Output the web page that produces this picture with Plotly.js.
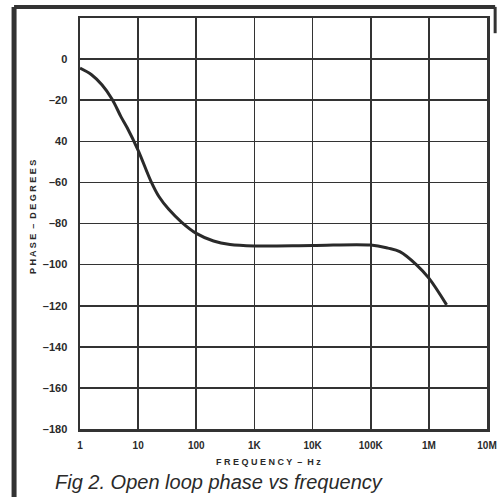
<!DOCTYPE html>
<html>
<head>
<meta charset="utf-8">
<script src="https://cdn.plot.ly/plotly-3.0.1.min.js"></script>
<style>html,body{margin:0;padding:0;background:#fff;}#chart{width:497px;height:497px;}</style>
</head>
<body>
<div id="chart"></div>
<script>
// Data
const frequencyHz = [1, 1.58, 2.38, 3.57, 5.08, 6.48, 10, 16.7, 22.9, 33.6, 56.2, 100, 198, 380, 1000, 10000, 100000, 198000, 316000, 614000, 1000000, 2020000];
const phaseDeg   = [-4.4, -7.6, -12.5, -19.5, -28.1, -33.4, -44.4, -59.6, -67.0, -73.1, -79.4, -84.8, -88.5, -90.2, -90.9, -90.7, -90.5, -92, -93.7, -100.1, -106.6, -119.6];

const xTickVals = [1, 10, 100, 1000, 10000, 100000, 1000000, 10000000];
const xTickText = ['1', '10', '100', '1K', '10K', '100K', '1M', '10M'];
const yTickVals = [0, -20, -40, -60, -80, -100, -120, -140, -160, -180];
const yTickText = ['0', '–20', '40', '–60', '–80', '–100', '–120', '–140', '–160', '–180'];

const ink = '#2a2a2a';
const fontFam = '"Liberation Sans", Arial, Helvetica, sans-serif';

const trace = {
  x: frequencyHz, y: phaseDeg, type: 'scatter', mode: 'lines',
  line: {color: ink, width: 3, shape: 'spline', smoothing: 1.0},
  hoverinfo: 'skip'
};

// frame coordinates (paper units relative to the plot area)
const fx0 = -0.162, fyTop = 1.027, fyBot = -0.2, fxR = 1.02;

const layout = {
  width: 497, height: 497,
  margin: {l: 80, r: 10, t: 18, b: 68},
  paper_bgcolor: '#ffffff', plot_bgcolor: '#ffffff',
  showlegend: false,
  font: {family: fontFam, color: ink},
  xaxis: {
    type: 'log', range: [0, 7],
    tickvals: xTickVals, ticktext: xTickText,
    showgrid: true, gridcolor: '#333', gridwidth: 1.6,
    showline: true, linecolor: '#333', linewidth: 2.5, mirror: true,
    ticks: '', ticklabelstandoff: 5,
    tickfont: {size: 10, family: fontFam, color: ink, weight: 'bold'},
    zeroline: false, fixedrange: true
  },
  yaxis: {
    range: [-180, 20],
    tickvals: yTickVals, ticktext: yTickText,
    showgrid: true, gridcolor: '#333', gridwidth: 1.6,
    showline: true, linecolor: '#333', linewidth: 2.5, mirror: true,
    ticks: '', ticklabelstandoff: 8,
    tickfont: {size: 11, family: fontFam, color: ink, weight: 'bold'},
    zeroline: false, fixedrange: true
  },
  shapes: [
    {type: 'line', xref: 'paper', yref: 'paper', x0: fx0, x1: fx0, y0: fyTop, y1: fyBot, line: {color: '#333', width: 5}},
    {type: 'line', xref: 'paper', yref: 'paper', x0: fx0, x1: fxR, y0: fyTop, y1: fyTop, line: {color: '#333', width: 4}},
    {type: 'line', xref: 'paper', yref: 'paper', x0: fxR, x1: fxR, y0: fyTop, y1: 0.963, line: {color: '#333', width: 3}}
  ],
  annotations: [
    {text: 'P H A S E  –  D E G R E E S', xref: 'paper', yref: 'paper', x: -0.1155, y: 0.516, textangle: -90,
     showarrow: false, xanchor: 'center', yanchor: 'middle',
     font: {size: 9, family: fontFam, color: ink, weight: 'bold'}},
    {text: 'F R E Q U E N C Y  –  H z', xref: 'paper', yref: 'paper', x: 0.462, y: -0.08,
     showarrow: false, xanchor: 'center', yanchor: 'middle',
     font: {size: 9, family: fontFam, color: ink, weight: 'bold'}},
    {text: 'Fig 2. Open loop phase vs frequency', xref: 'paper', yref: 'paper', x: -0.066, y: -0.129,
     showarrow: false, xanchor: 'left', yanchor: 'middle',
     font: {size: 20, family: fontFam, color: ink, style: 'italic'}}
  ]
};

Plotly.newPlot('chart', [trace], layout, {displayModeBar: false, staticPlot: true});
</script>
</body>
</html>
